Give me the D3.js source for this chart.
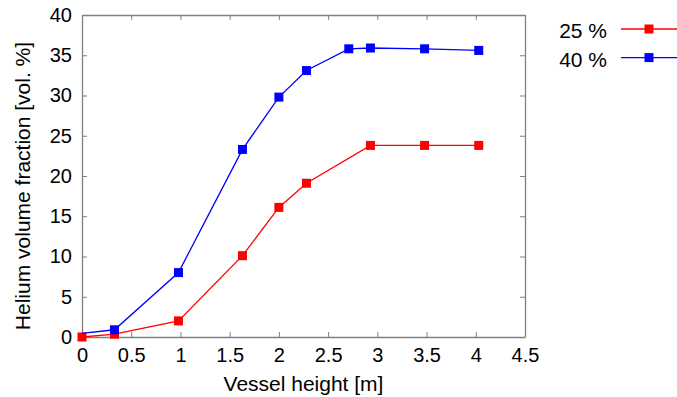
<!DOCTYPE html>
<html>
<head>
<meta charset="utf-8">
<script src="https://cdn.jsdelivr.net/npm/d3@7"></script>
<style>
  body { margin: 0; background: #fff; }
  text { font-family: "Liberation Sans", Arial, sans-serif; fill: #000; }
</style>
</head>
<body>
<div id="chart"></div>
<script>
// Vessel heights [m] and helium fractions [vol. %]
const heights25 = [0, 0.33, 0.98, 1.63, 2.0, 2.28, 2.93, 3.48, 4.03];
const values25 = [0.0, 0.35, 2.0, 10.1, 16.1, 19.1, 23.8, 23.8, 23.8];
const heights40 = [0, 0.33, 0.98, 1.63, 2.0, 2.28, 2.71, 2.93, 3.48, 4.03];
const values40 = [0.45, 0.9, 8.0, 23.3, 29.8, 33.1, 35.8, 35.9, 35.8, 35.6];
// the 40 % curve has no marker at the first point
const markers40 = [false, true, true, true, true, true, true, true, true, true];
const xTicks = [0, 0.5, 1, 1.5, 2, 2.5, 3, 3.5, 4, 4.5];
const yTicks = [0, 5, 10, 15, 20, 25, 30, 35, 40];
const seriesNames = ["25 %", "40 %"];
const seriesColors = ["#ff0000", "#0000ff"];

const width = 677, height = 397;
const margin = {top: 15, right: 152, bottom: 60, left: 82};
const plotW = width - margin.left - margin.right;
const plotH = height - margin.top - margin.bottom;

const svg = d3.select("#chart").append("svg")
    .attr("width", width)
    .attr("height", height);

const g = svg.append("g")
    .attr("transform", "translate(" + margin.left + "," + margin.top + ")");

const x = d3.scaleLinear().domain([0, 4.5]).range([0, plotW]);
const y = d3.scaleLinear().domain([0, 40]).range([plotH, 0]);

const axisColor = "#808080";

// axes with inward ticks on all four sides
function styleAxis(sel) {
    sel.select(".domain").attr("stroke", axisColor).attr("stroke-width", 1.3);
    sel.selectAll(".tick line").attr("stroke", axisColor).attr("stroke-width", 1);
    sel.selectAll("text").style("font-size", "20px").attr("fill", "#000");
}

g.append("g")
    .attr("transform", "translate(0," + plotH + ")")
    .call(d3.axisBottom(x).tickValues(xTicks).tickSize(-5).tickSizeOuter(0).tickPadding(11)
        .tickFormat(d3.format("")))
    .call(styleAxis);

g.append("g")
    .call(d3.axisTop(x).tickValues(xTicks).tickSize(-5).tickSizeOuter(0).tickFormat(""))
    .call(styleAxis);

g.append("g")
    .call(d3.axisLeft(y).tickValues(yTicks).tickSize(-5).tickSizeOuter(0).tickPadding(10))
    .call(styleAxis);

g.append("g")
    .attr("transform", "translate(" + plotW + ",0)")
    .call(d3.axisRight(y).tickValues(yTicks).tickSize(-5).tickSizeOuter(0).tickFormat(""))
    .call(styleAxis);

// axis titles
svg.append("text")
    .attr("x", margin.left + plotW / 2)
    .attr("y", 391)
    .attr("text-anchor", "middle")
    .style("font-size", "21px")
    .text("Vessel height [m]");

svg.append("text")
    .attr("transform", "translate(30," + (margin.top + plotH / 2 + 10) + ") rotate(-90)")
    .attr("text-anchor", "middle")
    .style("font-size", "21px")
    .text("Helium volume fraction [vol. %]");

const line = d3.line()
    .x(d => x(d[0]))
    .y(d => y(d[1]));

const data25 = heights25.map((h, i) => [h, values25[i], true]);
const data40 = heights40.map((h, i) => [h, values40[i], markers40[i]]);
const allSeries = [data25, data40];

allSeries.forEach(function(data, k) {
    g.append("path")
        .datum(data)
        .attr("fill", "none")
        .attr("stroke", seriesColors[k])
        .attr("stroke-width", 1.3)
        .attr("d", line);

    g.selectAll(".pt" + k)
        .data(data.filter(d => d[2]))
        .enter()
        .append("rect")
        .attr("x", d => x(d[0]) - 4.5)
        .attr("y", d => y(d[1]) - 4.5)
        .attr("width", 9)
        .attr("height", 9)
        .attr("fill", seriesColors[k]);
});

// legend
const legend = svg.append("g");
seriesNames.forEach(function(name, k) {
    const ly = 29 + k * 28.6;
    legend.append("text")
        .attr("x", 607)
        .attr("y", ly + 9)
        .attr("text-anchor", "end")
        .style("font-size", "21px")
        .text(name);
    legend.append("line")
        .attr("x1", 621).attr("x2", 677)
        .attr("y1", ly).attr("y2", ly)
        .attr("stroke", seriesColors[k])
        .attr("stroke-width", 1.3);
    legend.append("rect")
        .attr("x", 649 - 4.5).attr("y", ly - 4.5)
        .attr("width", 9).attr("height", 9)
        .attr("fill", seriesColors[k]);
});
</script>
</body>
</html>
